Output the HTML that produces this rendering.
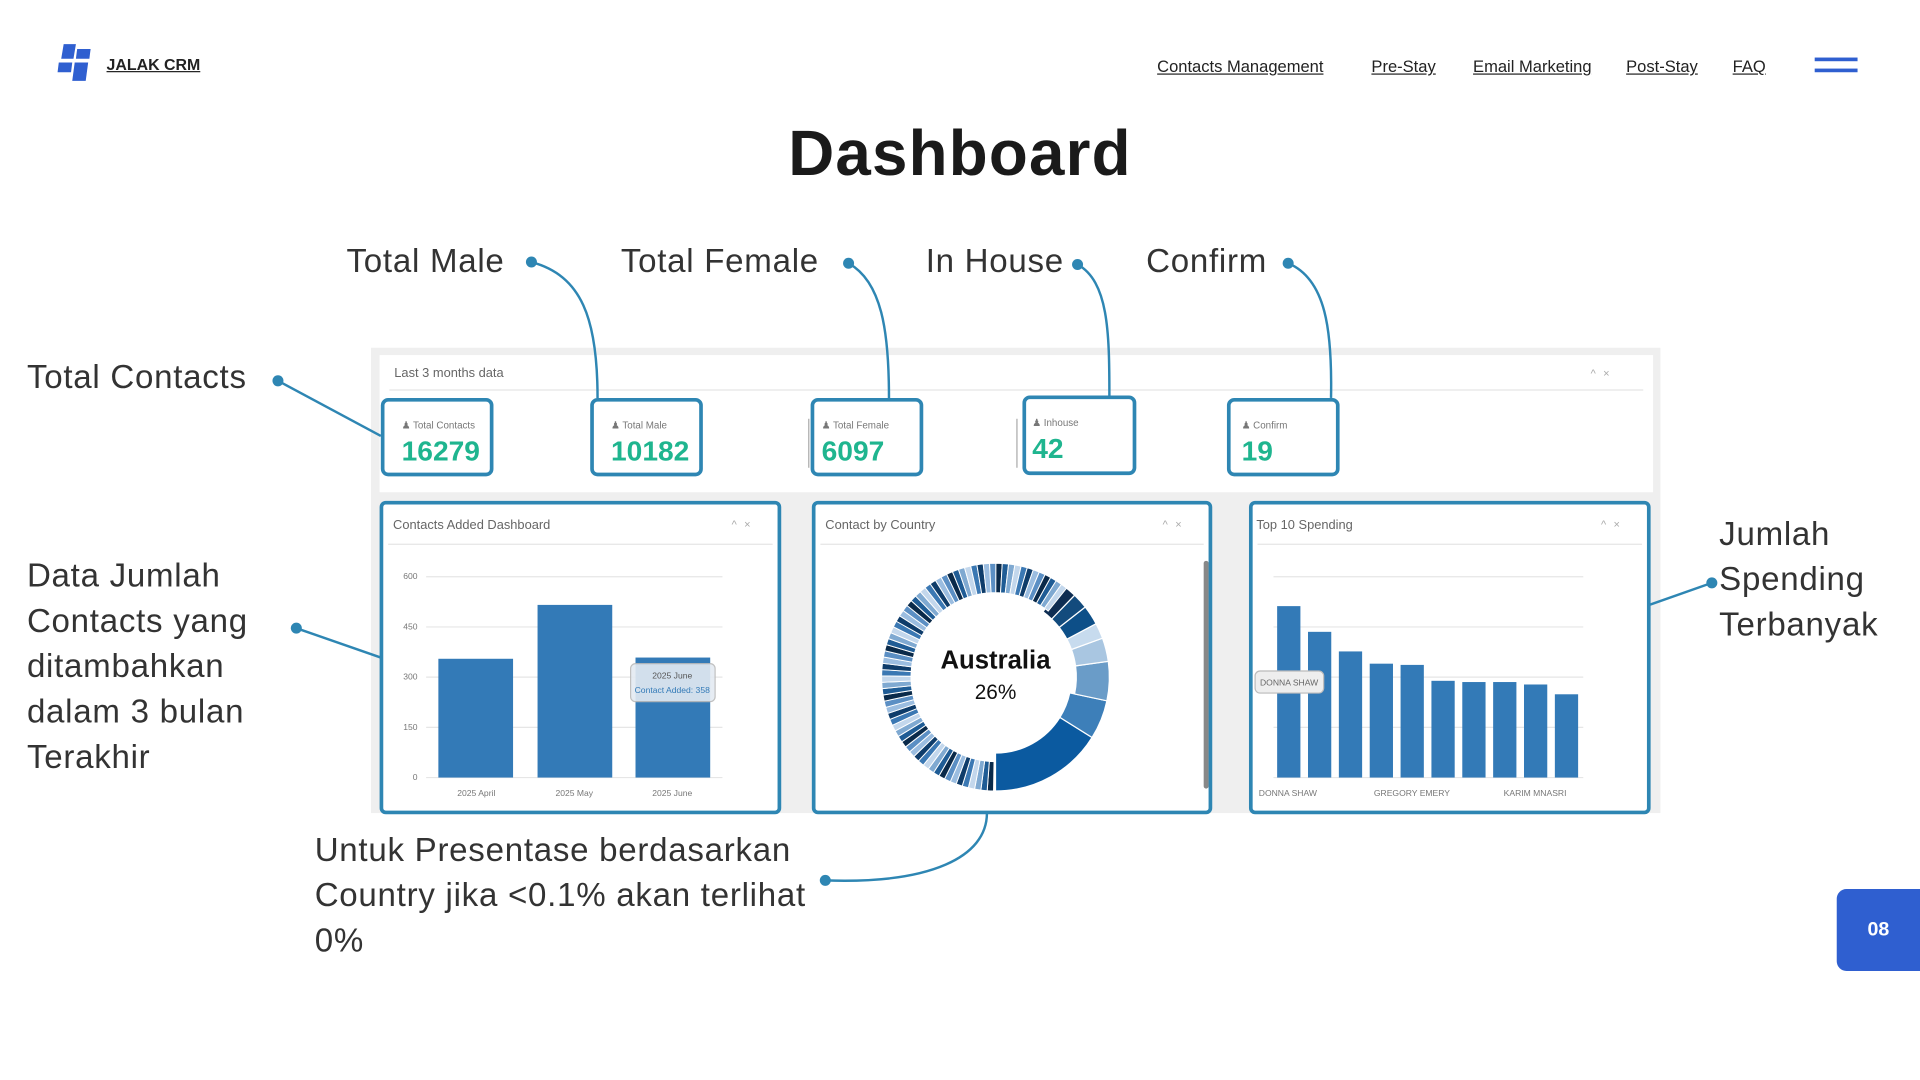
<!DOCTYPE html>
<html><head><meta charset="utf-8"><style>
html,body{margin:0;padding:0;background:#fff;overflow:hidden}
#w{position:absolute;left:0;top:0;width:1568px;height:882px;transform:scale(1.22449);transform-origin:0 0;font-family:"Liberation Sans",sans-serif;color:#222}
.a{position:absolute;white-space:nowrap}
.nav{position:absolute;top:47px;font-size:13.5px;text-decoration:underline;color:#222}
.lbl{position:absolute;font-size:27px;color:#333;line-height:37px;letter-spacing:0.6px}
.card{position:absolute;border:3px solid #2e86b3;border-radius:6px;background:#fff;box-sizing:border-box}
.card .t{position:absolute;left:14px;top:15px;font-size:8px;color:#777}
.card .n{position:absolute;left:14px;top:27px;font-size:23px;font-weight:bold;color:#1fb58f}
.pan{position:absolute;border:3px solid #2e86b3;border-radius:5px;background:#fff;box-sizing:border-box}
.pan .h{position:absolute;left:8px;top:11px;font-size:10.5px;color:#666}
.pan .hl{position:absolute;left:4px;right:4px;top:32px;border-top:1px solid #e5e5e5}
.pan .ic{position:absolute;right:16px;top:11px;font-size:9px;color:#aaa;letter-spacing:6px}
</style></head><body><div id="w">
<svg class="a" style="left:44px;top:34px" width="34" height="34" viewBox="0 0 34 34"><polygon points="8,2 18,2 16,14 6,14" fill="#2f5fd0"/><polygon points="19,6 30,6 29,14 18,14" fill="#2f5fd0"/><polygon points="4,17 15,17 14,25 3,25" fill="#2f5fd0"/><polygon points="17,17 28,17 26,32 15,32" fill="#2f5fd0"/></svg>
<div class="a" style="left:87px;top:45px;font-size:13px;font-weight:bold;text-decoration:underline">JALAK CRM</div>
<div class="nav" style="left:945px">Contacts Management</div>
<div class="nav" style="left:1120px">Pre-Stay</div>
<div class="nav" style="left:1203px">Email Marketing</div>
<div class="nav" style="left:1328px">Post-Stay</div>
<div class="nav" style="left:1415px">FAQ</div>
<div class="a" style="left:1482px;top:47px;width:35px;height:3px;background:#2f5fd0"></div>
<div class="a" style="left:1482px;top:56px;width:35px;height:3px;background:#2f5fd0"></div>
<div class="a" style="left:0;width:1568px;text-align:center;top:96px;font-size:52px;font-weight:bold;color:#1a1a1a;letter-spacing:1px">Dashboard</div>

<div class="lbl" style="left:283px;top:195px">Total Male</div>
<div class="lbl" style="left:507px;top:195px">Total Female</div>
<div class="lbl" style="left:756px;top:195px">In House</div>
<div class="lbl" style="left:936px;top:195px">Confirm</div>
<div class="lbl" style="left:22px;top:290px">Total Contacts</div>
<div class="lbl" style="left:22px;top:452px">Data Jumlah<br>Contacts yang<br>ditambahkan<br>dalam 3 bulan<br>Terakhir</div>
<div class="lbl" style="left:1404px;top:418px">Jumlah<br>Spending<br>Terbanyak</div>
<div class="lbl" style="left:257px;top:676px">Untuk Presentase berdasarkan<br>Country jika &lt;0.1% akan terlihat<br>0%</div>

<div class="a" style="left:303px;top:284px;width:1053px;height:380px;background:#efefef"></div>
<div class="a" style="left:310px;top:290px;width:1040px;height:112px;background:#fff"></div>
<div class="a" style="left:322px;top:299px;font-size:10.5px;color:#666">Last 3 months data</div>
<div class="a" style="left:1299px;top:300px;font-size:9px;color:#aaa;letter-spacing:6px">^×</div>
<div class="a" style="left:318px;top:318px;width:1024px;border-top:1px solid #e5e5e5"></div>
<div class="a" style="left:488px;top:342px;height:40px;border-left:1px solid #aaa"></div>
<div class="a" style="left:660px;top:342px;height:40px;border-left:1px solid #aaa"></div>
<div class="a" style="left:830px;top:342px;height:40px;border-left:1px solid #aaa"></div>

<div class="card" style="left:311px;top:325px;width:92px;height:64px"><div class="t">♟ Total Contacts</div><div class="n">16279</div></div>
<div class="card" style="left:482px;top:325px;width:92px;height:64px"><div class="t">♟ Total Male</div><div class="n">10182</div></div>
<div class="card" style="left:662px;top:325px;width:92px;height:64px"><div class="t" style="left:6px">♟ Total Female</div><div class="n" style="left:6px">6097</div></div>
<div class="card" style="left:835px;top:323px;width:93px;height:65px"><div class="t" style="left:5px">♟ Inhouse</div><div class="n" style="left:5px">42</div></div>
<div class="card" style="left:1002px;top:325px;width:92px;height:64px"><div class="t" style="left:9px">♟ Confirm</div><div class="n" style="left:9px">19</div></div>

<div class="pan" style="left:310px;top:409px;width:328px;height:256px"><div class="h">Contacts Added Dashboard</div><div class="ic">^×</div><div class="hl"></div></div>
<div class="pan" style="left:663px;top:409px;width:327px;height:256px"><div class="h">Contact by Country</div><div class="ic">^×</div><div class="hl"></div></div>
<div class="pan" style="left:1020px;top:409px;width:328px;height:256px"><div class="h" style="left:3px">Top 10 Spending</div><div class="ic">^×</div><div class="hl"></div></div>

<svg class="a" style="left:0;top:0" width="1568" height="882" font-family="Liberation Sans, sans-serif">
<g stroke="#e6e6e6" stroke-width="1">
<line x1="348" x2="590" y1="471" y2="471"/><line x1="348" x2="590" y1="512" y2="512"/><line x1="348" x2="590" y1="553" y2="553"/><line x1="348" x2="590" y1="594" y2="594"/><line x1="348" x2="590" y1="635" y2="635"/>
<line x1="1040" x2="1293" y1="471" y2="471"/><line x1="1040" x2="1293" y1="512" y2="512"/><line x1="1040" x2="1293" y1="553" y2="553"/><line x1="1040" x2="1293" y1="594" y2="594"/><line x1="1040" x2="1293" y1="635" y2="635"/>
</g>
<g font-size="7" fill="#777" text-anchor="end"><text x="341" y="473">600</text><text x="341" y="514">450</text><text x="341" y="555">300</text><text x="341" y="596">150</text><text x="341" y="637">0</text></g>
<g fill="#337ab7"><rect x="358" y="538" width="61" height="97"/><rect x="439" y="494" width="61" height="141"/><rect x="519" y="537" width="61" height="98"/></g>
<rect x="515" y="542" width="69" height="31" rx="4" fill="#e4ebf2" stroke="#bbb" opacity="0.9"/>
<text x="549" y="554" font-size="7" fill="#555" text-anchor="middle">2025 June</text>
<text x="549" y="566" font-size="7" fill="#337ab7" text-anchor="middle">Contact Added: 358</text>
<g font-size="7" fill="#777" text-anchor="middle"><text x="389" y="650">2025 April</text><text x="469" y="650">2025 May</text><text x="549" y="650">2025 June</text></g>
<g fill="#337ab7" id="b3"></g>
<rect x="1025" y="548" width="56" height="18" rx="4" fill="#eee" stroke="#bbb"/>
<text x="1029" y="560" font-size="7" fill="#666">DONNA SHAW</text>
<g font-size="7" fill="#777"><text x="1028" y="650">DONNA SHAW</text><text x="1122" y="650">GREGORY EMERY</text><text x="1228" y="650">KARIM MNASRI</text></g>
<rect x="983" y="458" width="4" height="186" fill="#888" rx="2"/>
<g id="donut"></g>
<text x="813" y="546" font-size="21" font-weight="bold" text-anchor="middle" fill="#111">Australia</text>
<text x="813" y="571" font-size="17" text-anchor="middle" fill="#111">26%</text>
<g fill="none" stroke="#2e86b3" stroke-width="2">
<path d="M434,214 C475,225 488,260 488,325"/>
<path d="M693,215 C720,230 726,270 726,325"/>
<path d="M880,216 C905,230 906,270 906,323"/>
<path d="M1052,215 C1083,228 1088,270 1087,325"/>
<line x1="227" y1="311" x2="311" y2="356"/>
<line x1="242" y1="513" x2="311" y2="537"/>
<line x1="1398" y1="476" x2="1347" y2="494"/>
<path d="M674,719 C760,722 806,700 806,664"/>
</g>
<g fill="#2e86b3"><circle cx="434" cy="214" r="4.5"/><circle cx="693" cy="215" r="4.5"/><circle cx="880" cy="216" r="4.5"/><circle cx="1052" cy="215" r="4.5"/><circle cx="227" cy="311" r="4.5"/><circle cx="242" cy="513" r="4.5"/><circle cx="1398" cy="476" r="4.5"/><circle cx="674" cy="719" r="4.5"/></g>
</svg>
<div class="a" style="left:1500px;top:726px;width:68px;height:67px;background:#2f5fd0;border-radius:8px 0 0 8px;color:#fff;font-weight:bold;font-size:16px;line-height:67px;text-align:center">08</div>
</div>
<script>
var ns="http://www.w3.org/2000/svg";
var tops=[495,516,532,542,543,556,557,557,559,567],g=document.getElementById("b3");
tops.forEach(function(t,i){var r=document.createElementNS(ns,"rect");r.setAttribute("x",1043+i*25.2);r.setAttribute("y",t);r.setAttribute("width",19);r.setAttribute("height",635-t);g.appendChild(r);});
var d=document.getElementById("donut"),cx=813,cy=553,R=93,r0=62;
function seg(a0,a1,c,ri,sw){ri=ri||r0;function p(a,rr){var t=(a-90)*Math.PI/180;return [cx+rr*Math.cos(t),cy+rr*Math.sin(t)];}
var A=p(a0,R),B=p(a1,R),C=p(a1,ri),D=p(a0,ri),l=(a1-a0)>180?1:0;
var e=document.createElementNS(ns,"path");e.setAttribute("d","M"+A+"A"+R+","+R+" 0 "+l+" 1 "+B+"L"+C+"A"+ri+","+ri+" 0 "+l+" 0 "+D+"Z");e.setAttribute("fill",c);e.setAttribute("stroke","#fff");e.setAttribute("stroke-width",sw||"1");d.appendChild(e);}
seg(122,180,"#0b5aa0");seg(102,122,"#3d7fb9");seg(82,102,"#6a9cc8",66);seg(70,82,"#a9c6e1",66);seg(62,70,"#c7dbee",66);seg(52,62,"#0d4f88",66);seg(44,52,"#134b7d",66);seg(36,44,"#0e2d52",66);
var cols=["#0a2a4a","#1f5c95","#7fa9d1","#c3d7ec","#3b78b3","#0e3c6a","#9bbde0","#5b8fc4"];
var a=181,i=0;while(a<396){var w=3.2;seg(a,a+w,cols[i%8],69,"0.8");a+=w;i++;}
</script>
</body></html>
